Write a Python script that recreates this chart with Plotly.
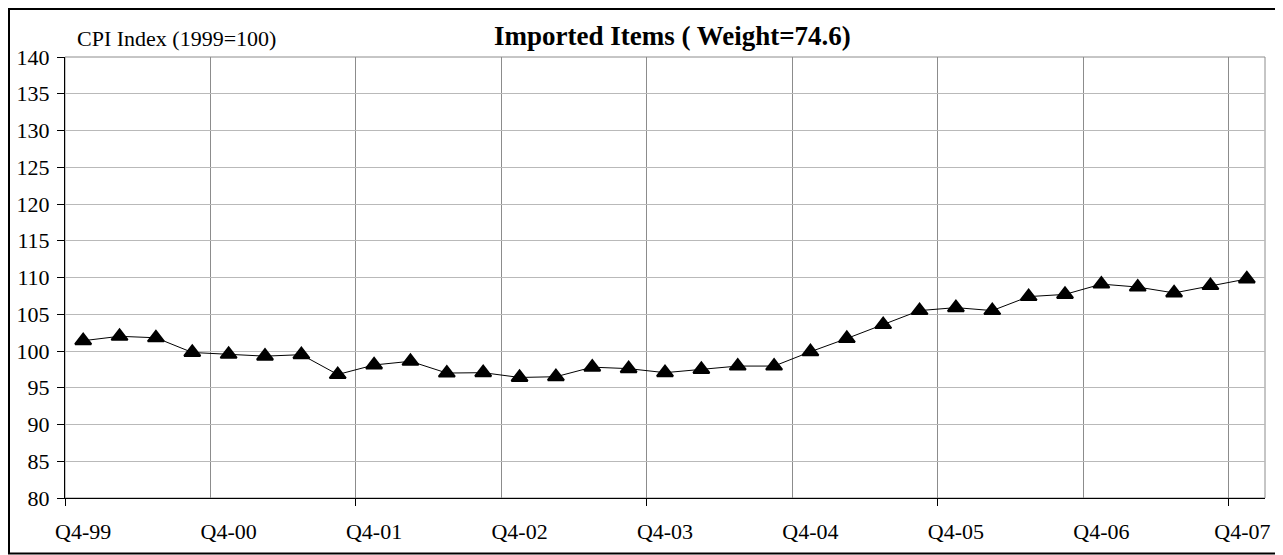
import plotly.graph_objects as go

quarters = [
    "Q4-99",
    "Q1-00", "Q2-00", "Q3-00", "Q4-00",
    "Q1-01", "Q2-01", "Q3-01", "Q4-01",
    "Q1-02", "Q2-02", "Q3-02", "Q4-02",
    "Q1-03", "Q2-03", "Q3-03", "Q4-03",
    "Q1-04", "Q2-04", "Q3-04", "Q4-04",
    "Q1-05", "Q2-05", "Q3-05", "Q4-05",
    "Q1-06", "Q2-06", "Q3-06", "Q4-06",
    "Q1-07", "Q2-07", "Q3-07", "Q4-07",
]
cpi_imported = [
    101.4, 102.0, 101.8, 99.8, 99.55, 99.3, 99.5, 96.8, 98.1, 98.6, 97.0,
    97.05, 96.4, 96.5, 97.8, 97.6, 97.05, 97.5, 97.95, 97.95, 99.9, 101.7,
    103.6, 105.5, 105.9, 105.5, 107.4, 107.7, 109.1, 108.7, 107.9, 108.9, 109.8,
]
y_ticks = list(range(80, 141, 5))
title_text = "Imported Items ( Weight=74.6)"
yaxis_caption = "CPI Index (1999=100)"

FONT = "Liberation Serif, Times New Roman, serif"
n = len(quarters)
idx = list(range(n))
label_pos = idx[::4]
label_pos[-1] = label_pos[-1] - 0.12  # last label nudged inside the frame
label_text = quarters[::4]
grid_pos = [i - 0.5 for i in range(4, n, 4)]
tick_pos = [i - 0.5 for i in range(0, n, 8)]
xr = [-0.5, n - 0.5]

fig = go.Figure()
fig.add_trace(go.Scatter(
    x=idx, y=cpi_imported, mode="lines+markers",
    line=dict(color="black", width=1),
    marker=dict(symbol="triangle-up", size=14, color="black",
                line=dict(color="black", width=2)),
    showlegend=False, hoverinfo="skip",
))
# invisible helper trace so the tick-mark overlay axis is drawn
fig.add_trace(go.Scatter(
    x=idx, y=cpi_imported, mode="lines", xaxis="x2",
    line=dict(color="rgba(0,0,0,0)", width=0),
    showlegend=False, hoverinfo="skip",
))

# page has an 8px body margin: figure occupies page x 8..1278, y 8..555
OFF = 8
W, H = 1270, 547
L, R, T, B = 57, 13, 49, 57
pw, ph = W - L - R, H - T - B


def px_x(p):
    return (p - OFF - L) / pw


def px_y(q):
    return (H - B - (q - OFF)) / ph


fig.update_layout(
    width=W, height=H,
    margin=dict(l=L, r=R, t=T, b=B, pad=0, autoexpand=False),
    paper_bgcolor="white", plot_bgcolor="white",
    font=dict(family=FONT, size=22, color="black"),
    xaxis=dict(
        range=xr, tickmode="array", tickvals=label_pos, ticktext=label_text,
        ticks="", showgrid=False, zeroline=False,
        showline=True, linecolor="black", linewidth=1,
        ticklabelstandoff=14, automargin=False,
        tickfont=dict(family=FONT, size=22, color="black"),
        minor=dict(tickmode="array", tickvals=grid_pos, showgrid=True,
                   gridcolor="#8c8c8c", gridwidth=1, ticks=""),
    ),
    xaxis2=dict(
        range=xr, overlaying="x", anchor="y", side="bottom",
        tickmode="array", tickvals=tick_pos, ticks="outside", ticklen=7,
        tickcolor="black", tickwidth=1, showticklabels=False,
        showgrid=False, zeroline=False, showline=False, automargin=False,
    ),
    yaxis=dict(
        range=[80, 140], tickmode="array", tickvals=y_ticks,
        ticks="outside", ticklen=7, tickcolor="black",
        showgrid=True, gridcolor="#b9b9b9", gridwidth=1,
        zeroline=False, showline=True, linecolor="black", linewidth=1,
        ticklabelstandoff=3, automargin=False,
        tickfont=dict(family=FONT, size=22, color="black"),
    ),
    shapes=[
        dict(type="rect", xref="paper", yref="paper", x0=0, x1=1, y0=0, y1=1,
             line=dict(color="#8c8c8c", width=1), layer="below"),
        dict(type="rect", xref="paper", yref="paper",
             x0=px_x(9), x1=px_x(1277), y0=px_y(553.5), y1=px_y(9),
             line=dict(color="black", width=2)),
    ],
    annotations=[
        dict(text="<b>" + title_text + "</b>", xref="paper", yref="paper",
             x=px_x(672), y=px_y(53), xanchor="center", yanchor="bottom",
             showarrow=False, font=dict(family=FONT, size=27, color="black")),
        dict(text=yaxis_caption, xref="paper", yref="paper",
             x=px_x(75), y=px_y(53), xanchor="left", yanchor="bottom",
             showarrow=False, font=dict(family=FONT, size=22, color="black")),
    ],
)

fig.write_html("out.html")
